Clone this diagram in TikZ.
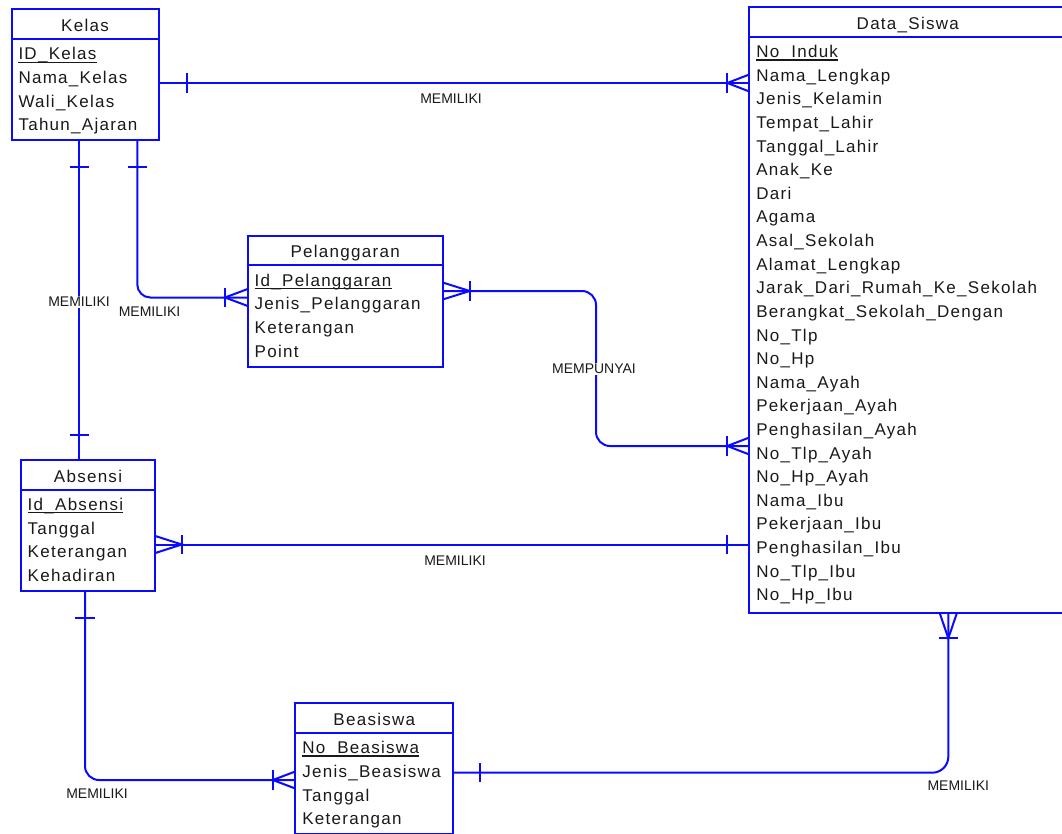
\documentclass[tikz,border=0pt]{standalone}
\usepackage{fontspec}
\setmainfont{Liberation Sans}
\newfontfamily\erfont[LetterSpace=7.5]{Liberation Sans}
\usetikzlibrary{calc}

\definecolor{erblue}{RGB}{10,10,255}
\definecolor{ertext}{RGB}{25,25,25}

\tikzset{
  erline/.style={draw=erblue, line width=2pt},
  entity/.style={erline, rectangle, inner sep=0pt, outer sep=0pt, anchor=north west},
  attr/.style={anchor=base west, inner sep=0pt, text=ertext, font=\erfont\fontsize{17}{20}\selectfont},
  etitle/.style={attr, anchor=base},
  rellabel/.style={fill=white, inner sep=1pt, text=ertext, font=\fontsize{14}{16}\selectfont},
  onebar/.pic={\draw[erline] (0,-9.7) -- (0,9.7);},
  crowfoot/.pic={\draw[erline] (0,-8.5) -- (-#1,0) -- (0,8.5);
                 \draw[erline] (-#1,-9.7) -- (-#1,9.7);},
}

% box, header line, title and attributes (first one is the key)
\newcommand{\erentity}[6]{%
  \node[entity, minimum width=#3pt, minimum height=#4pt] (#1) at (#2) {};
  \draw[erline] ($(#1.north west)+(0,29.5)$) -- ($(#1.north east)+(0,29.5)$);
  \node[etitle] (#1-t) at ($(#1.north)+(0,22)$) {#5};
  \foreach \a [count=\i from 0] in {#6}
    \node[attr] (#1-\i) at ($(#1.north west)+(6.8,50.5+23.6*\i)$) {\a};
  \draw[ertext, line width=1.1pt] ([yshift=-2.2pt]#1-0.base west) -- ([yshift=-2.2pt]#1-0.base east);
}

\begin{document}
\begin{tikzpicture}[x=1pt, y=-1pt]
  \useasboundingbox (0,0) rectangle (1062,834);

  % entities
  \erentity{kelas}{11.5,9.5}{147}{131}{Kelas}{ID\_Kelas, Nama\_Kelas, Wali\_Kelas, Tahun\_Ajaran}
  \erentity{pelang}{247.7,235.7}{195}{131}{Pelanggaran}{Id\_Pelanggaran, Jenis\_Pelanggaran, Keterangan, Point}
  \erentity{absensi}{20.7,460}{134.6}{131}{Absensi}{Id\_Absensi, Tanggal, Keterangan, Kehadiran}
  \erentity{beasiswa}{295.3,703.3}{158}{131}{Beasiswa}{No\_Beasiswa, Jenis\_Beasiswa, Tanggal, Keterangan}
  \erentity{siswa}{749.3,7.3}{317}{606}{Data\_Siswa}{No\_Induk, Nama\_Lengkap, Jenis\_Kelamin,
    Tempat\_Lahir, Tanggal\_Lahir, Anak\_Ke, Dari, Agama, Asal\_Sekolah, Alamat\_Lengkap,
    Jarak\_Dari\_Rumah\_Ke\_Sekolah, Berangkat\_Sekolah\_Dengan, No\_Tlp, No\_Hp, Nama\_Ayah,
    Pekerjaan\_Ayah, Penghasilan\_Ayah, No\_Tlp\_Ayah, No\_Hp\_Ayah, Nama\_Ibu, Pekerjaan\_Ibu,
    Penghasilan\_Ibu, No\_Tlp\_Ibu, No\_Hp\_Ibu}

  % Kelas - Data_Siswa
  \draw[erline] (kelas.east |- 0,83) -- (siswa.west |- 0,83);
  \pic at ($(kelas.east |- 0,83)+(28.2,0)$) {onebar};
  \pic at (siswa.west |- 0,83) {crowfoot=22};
  \node[rellabel] (r-kelas-siswa) at (451,99) {MEMILIKI};

  % Kelas - Absensi
  \draw[erline] (kelas.south -| 79.3,0) -- (absensi.north -| 79.3,0);
  \pic[rotate=90] at ($(kelas.south -| 79.3,0)+(0,26.2)$) {onebar};
  \pic[rotate=90] at ($(absensi.north -| 79.3,0)+(0,-25)$) {onebar};
  \node[rellabel] (r-kelas-absensi) at (79,302) {MEMILIKI};

  % Kelas - Pelanggaran
  \draw[erline, rounded corners=13pt] (kelas.south -| 137.3,0) |- (pelang.west |- 0,297.5);
  \pic[rotate=90] at ($(kelas.south -| 137.3,0)+(0,26.2)$) {onebar};
  \pic at (pelang.west |- 0,297.5) {crowfoot=22.7};
  \node[rellabel] (r-kelas-pelang) at (149.5,311.7) {MEMILIKI};

  % Pelanggaran - Data_Siswa
  \draw[erline, rounded corners=14pt] (pelang.east |- 0,291) -| (596,446) -- (siswa.west |- 0,446);
  \pic[rotate=180] at (pelang.east |- 0,291) {crowfoot=27};
  \pic at (siswa.west |- 0,446) {crowfoot=22};
  \node[rellabel] (r-pelang-siswa) at (594,369) {MEMPUNYAI};

  % Absensi - Data_Siswa
  \draw[erline] (absensi.east |- 0,544.5) -- (siswa.west |- 0,544.5);
  \pic[rotate=180] at (absensi.east |- 0,544.5) {crowfoot=26.5};
  \pic at ($(siswa.west |- 0,544.5)+(-22,0)$) {onebar};
  \node[rellabel] (r-absensi-siswa) at (455,561) {MEMILIKI};

  % Absensi - Beasiswa
  \draw[erline, rounded corners=14pt] (absensi.south -| 85,0) |- (beasiswa.west |- 0,780);
  \pic[rotate=90] at ($(absensi.south -| 85,0)+(0,27)$) {onebar};
  \pic at (beasiswa.west |- 0,780) {crowfoot=22.5};
  \node[rellabel] (r-absensi-beasiswa) at (97,793.3) {MEMILIKI};

  % Beasiswa - Data_Siswa
  \draw[erline, rounded corners=16pt] (beasiswa.east |- 0,772.7) -| (siswa.south -| 948.3,0);
  \pic at ($(beasiswa.east |- 0,772.7)+(26.7,0)$) {onebar};
  \pic[rotate=90] at (siswa.south -| 948.3,0) {crowfoot=25};
  \node[rellabel] (r-beasiswa-siswa) at (958.3,785.7) {MEMILIKI};
\end{tikzpicture}
\end{document}
